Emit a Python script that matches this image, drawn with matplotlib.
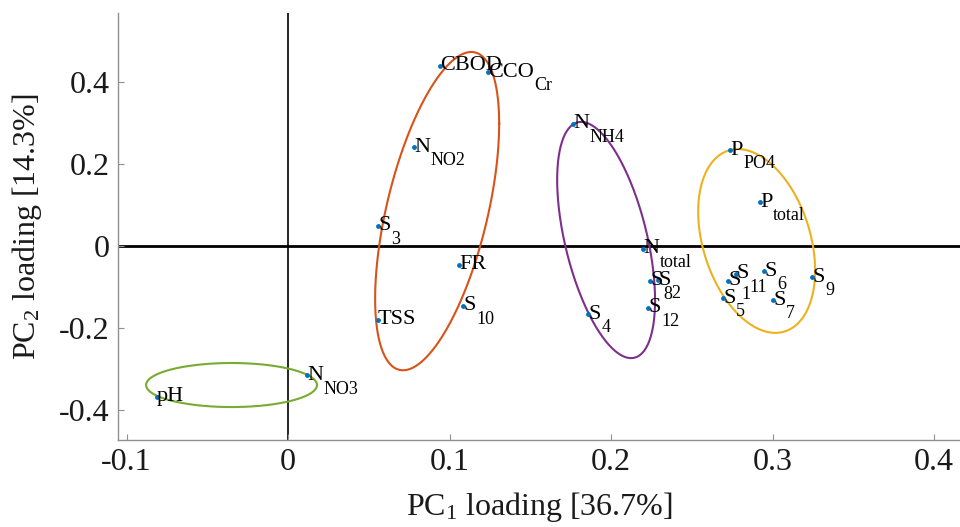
#!/usr/bin/env python3

import numpy as np
import matplotlib
matplotlib.use("Agg")
import matplotlib.pyplot as plt

plt.rcParams["font.family"] = ["Liberation Serif", "DejaVu Serif"]
plt.rcParams["mathtext.fontset"] = "custom"
plt.rcParams["mathtext.rm"] = "Liberation Serif"
plt.rcParams["mathtext.it"] = "Liberation Serif:italic"
plt.rcParams["axes.unicode_minus"] = False

# PCA loadings (PC1, PC2) for each variable
names = ["CBOD", "CCO", "N", "N", "P", "P", "S", "FR", "S", "TSS", "S", "N",
         "S", "S", "S", "S", "S", "S", "S", "S", "S", "N", "pH"]
subs = ["", "Cr", "NO2", "NH4", "PO4", "total", "3", "", "10", "", "4", "total",
        "8", "2", "12", "1", "11", "5", "6", "7", "9", "NO3", ""]
pc1 = [0.0941, 0.1238, 0.0780, 0.1765, 0.2737, 0.2923, 0.0557, 0.1059, 0.1084,
       0.0557, 0.1858, 0.2198, 0.2241, 0.2291, 0.2229, 0.2724, 0.2774, 0.2693,
       0.2947, 0.3003, 0.3245, 0.0118, -0.0811]
pc2 = [0.439, 0.424, 0.241, 0.298, 0.234, 0.107, 0.049, -0.046, -0.146,
       -0.180, -0.166, -0.007, -0.085, -0.083, -0.151, -0.085, -0.068, -0.127,
       -0.061, -0.132, -0.076, -0.315, -0.368]

# cluster ellipses: centre, half extents along x / y, correlation
ell_cx = [0.0923, 0.1969, 0.2901, -0.035]
ell_cy = [0.085, 0.0146, 0.0122, -0.339]
ell_sx = [0.0384, 0.0303, 0.0362, 0.0529]
ell_sy = [0.388, 0.288, 0.224, 0.0537]
ell_r = [0.55, -0.51, -0.32, 0.0]
ell_colors = ["#D95319", "#7E2F8E", "#EDB120", "#77AC30"]

xticks = [-0.1, 0, 0.1, 0.2, 0.3, 0.4]
xtick_labels = ["-0.1", "0", "0.1", "0.2", "0.3", "0.4"]
yticks = [-0.4, -0.2, 0, 0.2, 0.4]
ytick_labels = ["-0.4", "-0.2", "0", "0.2", "0.4"]


def ellipse_xy(cx, cy, sx, sy, r, n=400):
  cov = np.array([[sx * sx, r * sx * sy], [r * sx * sy, sy * sy]])
  L = np.linalg.cholesky(cov)
  t = np.linspace(0, 2 * np.pi, n)
  pts = L @ np.vstack([np.cos(t), np.sin(t)])
  return cx + pts[0], cy + pts[1]


fig = plt.figure(figsize=(9.6, 5.27), dpi=100)
ax = fig.add_axes([0.1229, 0.1651, 0.8771, 0.8102])

for cx, cy, sx, sy, r, c in zip(ell_cx, ell_cy, ell_sx, ell_sy, ell_r, ell_colors):
  ex, ey = ellipse_xy(cx, cy, sx, sy, r)
  ax.plot(ex, ey, color=c, lw=1.5, zorder=2)

ax.axhline(0, color="black", lw=2, zorder=1)
ax.axvline(0, color="black", lw=1.2, zorder=1)

ax.plot(pc1, pc2, "o", color="#0072BD", ms=3.5, mew=0, zorder=3)

for x, y, name, sub in zip(pc1, pc2, names, subs):
  t = ax.text(x, y, name, fontsize=16, va="center", ha="left", zorder=4)
  if sub:
    # subscript hangs from the main text's baseline
    ax.annotate(sub, xy=(1, 0), xycoords=t, xytext=(0.5, 3),
                textcoords="offset points", fontsize=13, va="top", ha="left",
                zorder=4)

ax.set_xlim(-0.1053, 0.416)
ax.set_ylim(-0.473, 0.568)
ax.set_xticks(xticks, xtick_labels)
ax.set_yticks(yticks, ytick_labels)

for s in ["top", "right"]:
  ax.spines[s].set_visible(False)
for s in ["left", "bottom"]:
  ax.spines[s].set_color("#909090")
  ax.spines[s].set_linewidth(1)
ax.tick_params(direction="in", length=4, color="#909090", labelsize=23,
               labelcolor="#1a1a1a", pad=6)

ax.set_xlabel(r"PC$_1$ loading [36.7%]", fontsize=23, color="#1a1a1a")
ax.set_ylabel(r"PC$_2$ loading [14.3%]", fontsize=23, color="#1a1a1a")
ax.xaxis.set_label_coords(0.5, -0.117)
ax.yaxis.set_label_coords(-0.088, 0.5)

plt.savefig("out.png", dpi=100)
